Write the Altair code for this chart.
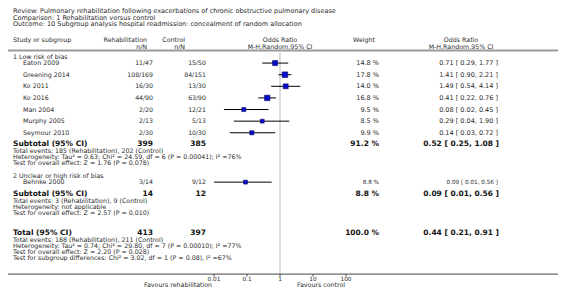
import altair as alt
import pandas as pd

# ---------------- data ----------------
title_lines = [
    "Review:  Pulmonary rehabilitation following exacerbations of chronic obstructive pulmonary disease",
    "Comparison:  1 Rehabilitation versus control",
    "Outcome:  10 Subgroup analysis hospital readmission: concealment of random allocation",
]
studies = ["Eaton 2009", "Greening 2014", "Ko 2011", "Ko 2016", "Man 2004",
           "Murphy 2005", "Seymour 2010", "Behnke 2000"]
study_group = [1, 1, 1, 1, 1, 1, 1, 2]
rehab_n = [11, 108, 16, 44, 2, 2, 2, 3]
rehab_N = [47, 169, 30, 90, 20, 13, 30, 14]
ctrl_n = [15, 84, 13, 63, 12, 5, 10, 9]
ctrl_N = [50, 151, 30, 90, 21, 13, 30, 12]
weights = [14.8, 17.8, 14.0, 16.8, 9.5, 8.5, 9.9, 8.8]
odds = [0.71, 1.41, 1.49, 0.41, 0.08, 0.29, 0.14, 0.09]
ci_low = [0.29, 0.90, 0.54, 0.22, 0.02, 0.04, 0.03, 0.01]
ci_high = [1.77, 2.21, 4.14, 0.76, 0.45, 1.90, 0.72, 0.56]

group_labels = ["1 Low risk of bias", "2 Unclear or high risk of bias"]
pooled_labels = ["Subtotal (95% CI)", "Subtotal (95% CI)", "Total (95% CI)"]
pooled_rehab_N = [399, 14, 413]
pooled_ctrl_N = [385, 12, 397]
pooled_weight = [91.2, 8.8, 100.0]
pooled_or = [0.52, 0.09, 0.44]
pooled_low = [0.25, 0.01, 0.21]
pooled_high = [1.08, 0.56, 0.91]
pooled_notes = [
    ["Total events: 185 (Rehabilitation), 202 (Control)",
     "Heterogeneity: Tau\u00b2 = 0.63; Chi\u00b2 = 24.59, df = 6 (P = 0.00041); I\u00b2 =76%",
     "Test for overall effect: Z = 1.76 (P = 0.078)"],
    ["Total events: 3 (Rehabilitation), 9 (Control)",
     "Heterogeneity: not applicable",
     "Test for overall effect: Z = 2.57 (P = 0.010)"],
    ["Total events: 188 (Rehabilitation), 211 (Control)",
     "Heterogeneity: Tau\u00b2 = 0.74; Chi\u00b2 = 29.80, df = 7 (P = 0.00010); I\u00b2 =77%",
     "Test for overall effect: Z = 2.20 (P = 0.028)",
     "Test for subgroup differences: Chi\u00b2 = 3.02, df = 1 (P = 0.08), I\u00b2 =67%"],
]
tick_values = [0.01, 0.1, 1, 10, 100]
tick_labels = ["0.01", "0.1", "1", "10", "100"]
favours = ["Favours rehabilitation", "Favours control"]

# ---------------- layout (reference pixel rows) ----------------
W, H = 550, 280
FONT = "DejaVu Sans"
TXT = "#2a2a2a"
BLK = "#111111"


def cy(ref):
    return 2.8 + (ref - 7) * 0.968


yscale = alt.Scale(domain=[0, 296], range=[cy(0), cy(296)], zero=False, nice=False)
xscale = alt.Scale(type="log", domain=[0.01, 100], range=[206, 338])


def X(px):
    return px - 8


title_y = [7, 14, 21]
study_y = [61 + 12 * i for i in range(7)] + [184]
group_y = [54.5, 177.5]
pooled_y = [144.5, 196.5, 236.5]
notes_y = [[151.5, 157.9, 164.3], [203.5, 209.9, 216.3], [243.5, 249.9, 256.3, 262.7]]
axis_y = 279


def txt(df, x, align="left", size=6.3, bold=False, color=TXT):
    return alt.Chart(df).mark_text(
        align=align, baseline="middle", fontSize=size, font=FONT,
        fontWeight="bold" if bold else "normal", color=color
    ).encode(x=alt.value(X(x)), y=alt.Y("y:Q", scale=yscale, axis=None), text="t:N")


layers = []

# titles
layers.append(txt(pd.DataFrame({"t": title_lines, "y": title_y}), 13, size=6.5))

# headers
layers.append(txt(pd.DataFrame({"t": ["Study or subgroup"], "y": [37]}), 13))
layers.append(txt(pd.DataFrame({"t": ["Rehabilitation", "n/N"], "y": [37, 44]}), 147, "right"))
layers.append(txt(pd.DataFrame({"t": ["Control", "n/N"], "y": [37, 44]}), 185, "right"))
layers.append(txt(pd.DataFrame({"t": ["Odds Ratio", "M-H,Random,95% CI"], "y": [37, 44]}), 280, "center"))
layers.append(txt(pd.DataFrame({"t": ["Weight"], "y": [37]}), 375, "right"))
layers.append(txt(pd.DataFrame({"t": ["Odds Ratio", "M-H,Random,95% CI"], "y": [37, 44]}), 461, "center"))

# separator under header
sep = pd.DataFrame({"y": [48]})
layers.append(alt.Chart(sep).mark_rule(color="#9a9a9a", strokeWidth=2).encode(
    x=alt.value(0), x2=alt.value(W), y=alt.Y("y:Q", scale=yscale, axis=None)))

# vertical line of no effect
vline = pd.DataFrame({"x": [1.0], "y": [50], "y2": [278]})
layers.append(alt.Chart(vline).mark_rule(color="#dddddd", strokeWidth=2).encode(
    x=alt.X("x:Q", scale=xscale, axis=None),
    y=alt.Y("y:Q", scale=yscale, axis=None), y2="y2:Q"))

# group labels
layers.append(txt(pd.DataFrame({"t": group_labels, "y": group_y}), 13))

# study rows
sd = pd.DataFrame({
    "name": studies, "y": study_y, "w": weights, "or": odds, "lo": ci_low, "hi": ci_high,
    "rn": [f"{a}/{b}" for a, b in zip(rehab_n, rehab_N)],
    "cn": [f"{a}/{b}" for a, b in zip(ctrl_n, ctrl_N)],
    "wt": [f"{w:.1f} %" for w in weights],
    "ort": [f"{o:.2f} [ {l:.2f}, {h:.2f} ]" for o, l, h in zip(odds, ci_low, ci_high)],
})
layers.append(txt(sd.assign(t=sd["name"]), 23))
layers.append(txt(sd.assign(t=sd["rn"]), 153, "right", 6.2))
layers.append(txt(sd.assign(t=sd["cn"]), 206, "right", 6.2))
big = sd.iloc[:7]
small = sd.iloc[7:]
layers.append(txt(big.assign(t=big["wt"]), 379, "right", 6.5))
layers.append(txt(big.assign(t=big["ort"]), 498, "right", 6.5))
layers.append(txt(small.assign(t=small["wt"]), 379, "right", 5.7))
layers.append(txt(small.assign(t=small["ort"]), 498, "right", 5.7))

layers.append(alt.Chart(sd).mark_rule(color="#000000", strokeWidth=1).encode(
    x=alt.X("lo:Q", scale=xscale, axis=None), x2="hi:Q",
    y=alt.Y("y:Q", scale=yscale, axis=None)))
layers.append(alt.Chart(sd).mark_square(filled=True, color="#0a0acc", stroke="#000055",
                                        strokeWidth=0.5, opacity=1).encode(
    x=alt.X("or:Q", scale=xscale, axis=None),
    y=alt.Y("y:Q", scale=yscale, axis=None),
    size=alt.Size("w:Q", scale=alt.Scale(domain=[0, 18], range=[0, 32]), legend=None)))

# pooled rows
pdf = pd.DataFrame({
    "t": pooled_labels, "y": pooled_y,
    "rN": [str(v) for v in pooled_rehab_N], "cN": [str(v) for v in pooled_ctrl_N],
    "wt": [f"{w:.1f} %" for w in pooled_weight],
    "ort": [f"{o:.2f} [ {l:.2f}, {h:.2f} ]" for o, l, h in zip(pooled_or, pooled_low, pooled_high)],
})
layers.append(txt(pdf, 13, size=7.5, bold=True, color=BLK))
layers.append(txt(pdf.assign(t=pdf["rN"]), 153, "right", 7.5, True, BLK))
layers.append(txt(pdf.assign(t=pdf["cN"]), 206, "right", 7.5, True, BLK))
layers.append(txt(pdf.assign(t=pdf["wt"]), 379, "right", 7.5, True, BLK))
layers.append(txt(pdf.assign(t=pdf["ort"]), 499, "right", 7.5, True, BLK))

rows = []
for i, (c, lo, est, hi) in enumerate(zip(pooled_y, pooled_low, pooled_or, pooled_high)):
    rows.append({"id": i, "x": lo, "ya": c, "yb": c})
    rows.append({"id": i, "x": est, "ya": c - 3.4, "yb": c + 3.4})
    rows.append({"id": i, "x": hi, "ya": c, "yb": c})
dia = pd.DataFrame(rows)
layers.append(alt.Chart(dia).mark_area(color="#000000", opacity=1).encode(
    x=alt.X("x:Q", scale=xscale, axis=None),
    y=alt.Y("ya:Q", scale=yscale, axis=None), y2="yb:Q",
    detail="id:N", order="x:Q"))

# notes
nrows = []
for notes, ys in zip(pooled_notes, notes_y):
    for t, y in zip(notes, ys):
        nrows.append({"t": t, "y": y})
layers.append(txt(pd.DataFrame(nrows), 13, size=6.3))

# axis
ax = pd.DataFrame({"y": [axis_y]})
layers.append(alt.Chart(ax).mark_rule(color="#444444", strokeWidth=1).encode(
    x=alt.value(0), x2=alt.value(W), y=alt.Y("y:Q", scale=yscale, axis=None)))
tk = pd.DataFrame({"x": tick_values, "t": tick_labels, "y": [axis_y] * 5,
                   "y2": [axis_y + 2.5] * 5, "yl": [283.8] * 5})
layers.append(alt.Chart(tk).mark_rule(color="#444444", strokeWidth=1).encode(
    x=alt.X("x:Q", scale=xscale, axis=None),
    y=alt.Y("y:Q", scale=yscale, axis=None), y2="y2:Q"))
layers.append(alt.Chart(tk).mark_text(align="center", baseline="middle", fontSize=5.8,
                                      font=FONT, color=TXT).encode(
    x=alt.X("x:Q", scale=xscale, axis=None),
    y=alt.Y("yl:Q", scale=yscale, axis=None), text="t:N"))
fav = pd.DataFrame({"t": favours, "y": [290.5, 290.5]})
layers.append(txt(fav.iloc[:1], 178, "center", 6.3))
layers.append(txt(fav.iloc[1:], 321, "center", 6.3))

chart = alt.layer(*layers).properties(
    width=W, height=H, padding=0, autosize="none"
).configure_view(stroke=None)

chart.save("out.html", embed_options={"renderer": "svg", "actions": False})
